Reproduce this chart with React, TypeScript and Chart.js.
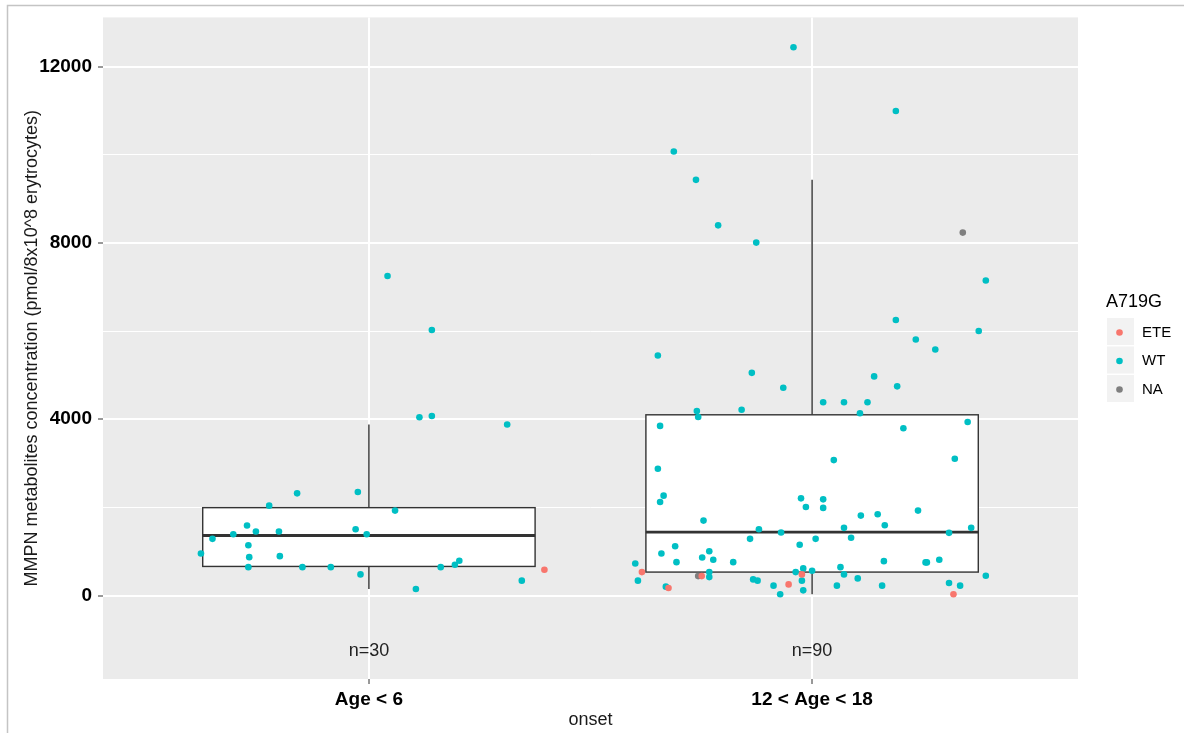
import React, { useEffect, useRef } from "react";
import { Chart, registerables } from "chart.js";

Chart.register(...registerables);

// ---------- data ----------
const categories = ["Age < 6", "12 < Age < 18"];
const alleleLevels = ["ETE", "WT", "NA"];
const countLabels = ["n=30", "n=90"];
const countLabelValue = -1260;

const yTickValues = [0, 2000, 4000, 6000, 8000, 10000, 12000];
const yMajorTicks = [0, 4000, 8000, 12000];

const boxQ1 = [662, 534];
const boxMedian = [1363, 1438];
const boxQ3 = [1995, 4101];
const whiskerLow = [150, 30];
const whiskerHigh = [3880, 9430];

const group1Values = [7250, 6025, 4045, 4075, 3880, 2319, 2350, 2041, 1928, 1589, 1453, 1453, 1392, 1505, 1392, 1288, 1144, 956, 872, 895, 646, 646, 646, 646, 701, 791, 481, 150, 339, 588];
const group1Jitter = [0.042, 0.142, 0.114, 0.142, 0.312, -0.162, -0.025, -0.225, 0.059, -0.275, -0.255, -0.203, -0.306, -0.03, -0.005, -0.353, -0.272, -0.379, -0.27, -0.201, -0.272, -0.15, -0.086, 0.162, 0.194, 0.204, -0.019, 0.106, 0.345, 0.396];
const group1Allele = ["WT", "WT", "WT", "WT", "WT", "WT", "WT", "WT", "WT", "WT", "WT", "WT", "WT", "WT", "WT", "WT", "WT", "WT", "WT", "WT", "WT", "WT", "WT", "WT", "WT", "WT", "WT", "WT", "WT", "ETE"];

const group2Values = [
  12437, 10990, 10071, 9430, 8398, 8007, 8233, 7148, 6251, 6003,
  5447, 5053, 4714, 4188, 4052, 4217, 3849, 2877, 2267, 2124, 2206, 2011, 1702, 1505, 1431, 1288, 1288, 1153, 1121, 1008, 956, 866, 814, 759, 759, 730, 533, 533, 443, 443, 420, 339, 203, 172, 368, 339, 226, 30, 255, 533, 481, 617, 339, 120, 565,
  5808, 5582, 4972, 4746, 4384, 4384, 4384, 4136, 3939, 3797, 3103, 3074, 2183, 1989, 1815, 1844, 1928, 1596, 1537, 1311, 1424, 1537, 782, 753, 753, 814, 646, 481, 391, 226, 226, 285, 226, 30, 452,
];
const group2Jitter = [
  -0.042, 0.189, -0.312, -0.262, -0.212, -0.126, 0.34, 0.392, 0.189, 0.376,
  -0.348, -0.136, -0.065, -0.26, -0.257, -0.159, -0.343, -0.348, -0.335, -0.343, -0.025, -0.014, -0.245, -0.12, -0.07, -0.14, 0.008, -0.028, -0.309, -0.232, -0.34, -0.248, -0.223, -0.306, -0.178, -0.399, -0.384, -0.232, -0.257, -0.249, -0.232, -0.393, -0.33, -0.324, -0.133, -0.123, -0.087, -0.072, -0.053, -0.037, -0.023, -0.02, -0.023, -0.02, 0.0,
  0.234, 0.278, 0.14, 0.192, 0.025, 0.072, 0.125, 0.108, 0.351, 0.206, 0.322, 0.049, 0.025, 0.025, 0.11, 0.148, 0.239, 0.164, 0.072, 0.088, 0.309, 0.359, 0.162, 0.256, 0.259, 0.287, 0.064, 0.072, 0.103, 0.056, 0.158, 0.309, 0.334, 0.319, 0.392,
];
const group2Allele = [
  "WT", "WT", "WT", "WT", "WT", "WT", "NA", "WT", "WT", "WT",
  "WT", "WT", "WT", "WT", "WT", "WT", "WT", "WT", "WT", "WT", "WT", "WT", "WT", "WT", "WT", "WT", "WT", "WT", "WT", "WT", "WT", "WT", "WT", "WT", "WT", "WT", "ETE", "WT", "NA", "ETE", "WT", "WT", "WT", "ETE", "WT", "WT", "WT", "WT", "ETE", "WT", "ETE", "WT", "WT", "WT", "WT",
  "WT", "WT", "WT", "WT", "WT", "WT", "WT", "WT", "WT", "WT", "WT", "WT", "WT", "WT", "WT", "WT", "WT", "WT", "WT", "WT", "WT", "WT", "WT", "WT", "WT", "WT", "WT", "WT", "WT", "WT", "WT", "WT", "WT", "ETE", "WT",
];

// ---------- style ----------
const alleleColors: Record<string, string> = { ETE: "#F8766D", WT: "#00BFC4", NA: "#7F7F7F" };
const alleleOrder: Record<string, number> = { ETE: 0, NA: 1, WT: 2 };
const FONT = "'Liberation Sans', Arial, sans-serif";
const boxHalfWidth = 0.375;

const groups = [
  { values: group1Values, jitter: group1Jitter, allele: group1Allele },
  { values: group2Values, jitter: group2Jitter, allele: group2Allele },
];

function buildDatasets() {
  return alleleLevels.map((lvl) => {
    const pts: { x: number; y: number }[] = [];
    groups.forEach((g, gi) => {
      g.values.forEach((v, i) => {
        if (g.allele[i] === lvl) pts.push({ x: gi + 1 + g.jitter[i], y: v });
      });
    });
    return {
      label: lvl,
      data: pts,
      order: alleleOrder[lvl],
      backgroundColor: alleleColors[lvl],
      borderWidth: 0,
      pointRadius: 3.3,
      pointHoverRadius: 3.3,
    };
  });
}

const ggPlugin = {
  id: "ggExtras",
  beforeDraw(chart: any) {
    const { ctx, chartArea: a } = chart;
    ctx.save();
    ctx.fillStyle = "#EBEBEB";
    ctx.fillRect(a.left, a.top, a.right - a.left, a.bottom - a.top);
    ctx.restore();
  },
  beforeDatasetsDraw(chart: any) {
    const { ctx, scales } = chart;
    const x = scales.x, y = scales.y;
    ctx.save();
    categories.forEach((_, i) => {
      const c = i + 1;
      const l = x.getPixelForValue(c - boxHalfWidth);
      const r = x.getPixelForValue(c + boxHalfWidth);
      const px = x.getPixelForValue(c);
      ctx.strokeStyle = "#333333";
      ctx.lineWidth = 1.4;
      ctx.beginPath();
      ctx.moveTo(px, y.getPixelForValue(whiskerHigh[i]));
      ctx.lineTo(px, y.getPixelForValue(boxQ3[i]));
      ctx.moveTo(px, y.getPixelForValue(boxQ1[i]));
      ctx.lineTo(px, y.getPixelForValue(whiskerLow[i]));
      ctx.stroke();
      const top = y.getPixelForValue(boxQ3[i]);
      const bot = y.getPixelForValue(boxQ1[i]);
      ctx.fillStyle = "#FFFFFF";
      ctx.fillRect(l, top, r - l, bot - top);
      ctx.strokeRect(l, top, r - l, bot - top);
      ctx.lineWidth = 2.8;
      ctx.beginPath();
      const m = y.getPixelForValue(boxMedian[i]);
      ctx.moveTo(l, m);
      ctx.lineTo(r, m);
      ctx.stroke();
    });
    ctx.restore();
  },
  afterDatasetsDraw(chart: any) {
    const { ctx, scales } = chart;
    ctx.save();
    ctx.fillStyle = "#222222";
    ctx.font = `18px ${FONT}`;
    ctx.textAlign = "center";
    ctx.textBaseline = "middle";
    countLabels.forEach((t, i) => {
      ctx.fillText(t, scales.x.getPixelForValue(i + 1), scales.y.getPixelForValue(countLabelValue));
    });
    ctx.restore();
  },
  afterDraw(chart: any) {
    const { ctx } = chart;
    ctx.save();
    // window frame
    ctx.strokeStyle = "#C4C4C4";
    ctx.lineWidth = 1.5;
    ctx.beginPath();
    ctx.moveTo(7.5, 733);
    ctx.lineTo(7.5, 5.5);
    ctx.lineTo(1184, 5.5);
    ctx.stroke();
    // legend
    const lx = 1106;
    ctx.fillStyle = "#000000";
    ctx.font = `18px ${FONT}`;
    ctx.textAlign = "left";
    ctx.textBaseline = "middle";
    ctx.fillText("A719G", lx, 302);
    alleleLevels.forEach((lvl, i) => {
      const ky = 318 + i * 28.5;
      ctx.fillStyle = "#F2F2F2";
      ctx.fillRect(lx + 1, ky, 27, 27);
      ctx.fillStyle = alleleColors[lvl];
      ctx.beginPath();
      ctx.arc(lx + 13.5, ky + 14.5, 3.3, 0, Math.PI * 2);
      ctx.fill();
      ctx.fillStyle = "#000000";
      ctx.font = `15px ${FONT}`;
      ctx.fillText(lvl, lx + 36, ky + 14.5);
    });
    ctx.restore();
  },
};

export default function App() {
  const ref = useRef<HTMLCanvasElement>(null);
  useEffect(() => {
    document.body.style.margin = "0";
    const chart = new Chart(ref.current as HTMLCanvasElement, {
      type: "scatter",
      data: { datasets: buildDatasets() as any },
      plugins: [ggPlugin],
      options: {
        animation: false,
        responsive: false,
        devicePixelRatio: 1,
        layout: { padding: { left: 0, top: 15, right: 106, bottom: 0 } },
        plugins: { legend: { display: false }, tooltip: { enabled: false } },
        scales: {
          x: {
            type: "linear",
            min: 0.4,
            max: 2.6,
            afterBuildTicks: (s: any) => {
              s.ticks = categories.map((_, i) => ({ value: i + 1 }));
            },
            afterFit: (s: any) => {
              s.height = 54;
            },
            ticks: {
              autoSkip: false,
              padding: 4,
              color: "#000000",
              font: { family: FONT, size: 19, weight: "bold" },
              callback: (v: any) => categories[Math.round(v) - 1] ?? "",
            },
            grid: { color: "#FFFFFF", lineWidth: 2, tickColor: "#333333", tickLength: 5, tickWidth: 1 },
            border: { display: false },
            title: {
              display: true,
              text: "onset",
              color: "#1A1A1A",
              font: { family: FONT, size: 18 },
              padding: { top: 0, bottom: 2 },
            },
          },
          y: {
            type: "linear",
            min: -1891,
            max: 13114,
            afterBuildTicks: (s: any) => {
              s.ticks = yTickValues.map((v) => ({ value: v }));
            },
            afterFit: (s: any) => {
              s.width = 103;
            },
            ticks: {
              autoSkip: false,
              padding: 6,
              color: "#000000",
              font: { family: FONT, size: 19, weight: "bold" },
              callback: (v: any) => (yMajorTicks.includes(v) ? String(v) : ""),
            },
            grid: {
              color: "#FFFFFF",
              lineWidth: (c: any) => (c.tick && yMajorTicks.includes(c.tick.value) ? 2 : 1),
              tickColor: (c: any) => (c.tick && yMajorTicks.includes(c.tick.value) ? "#333333" : "rgba(0,0,0,0)"),
              tickLength: 5,
              tickWidth: 1,
            },
            border: { display: false },
            title: {
              display: true,
              text: "MMPN metabolites concentration (pmol/8x10^8 erytrocytes)",
              color: "#1A1A1A",
              font: { family: FONT, size: 18 },
              padding: { top: 21, bottom: 0 },
            },
          },
        },
      } as any,
    });
    return () => chart.destroy();
  }, []);
  return (
    <div style={{ position: "absolute", left: 0, top: 0, width: 1184, height: 733, background: "#FFFFFF" }}>
      <canvas ref={ref} width={1184} height={733} style={{ display: "block", width: 1184, height: 733 }} />
    </div>
  );
}
